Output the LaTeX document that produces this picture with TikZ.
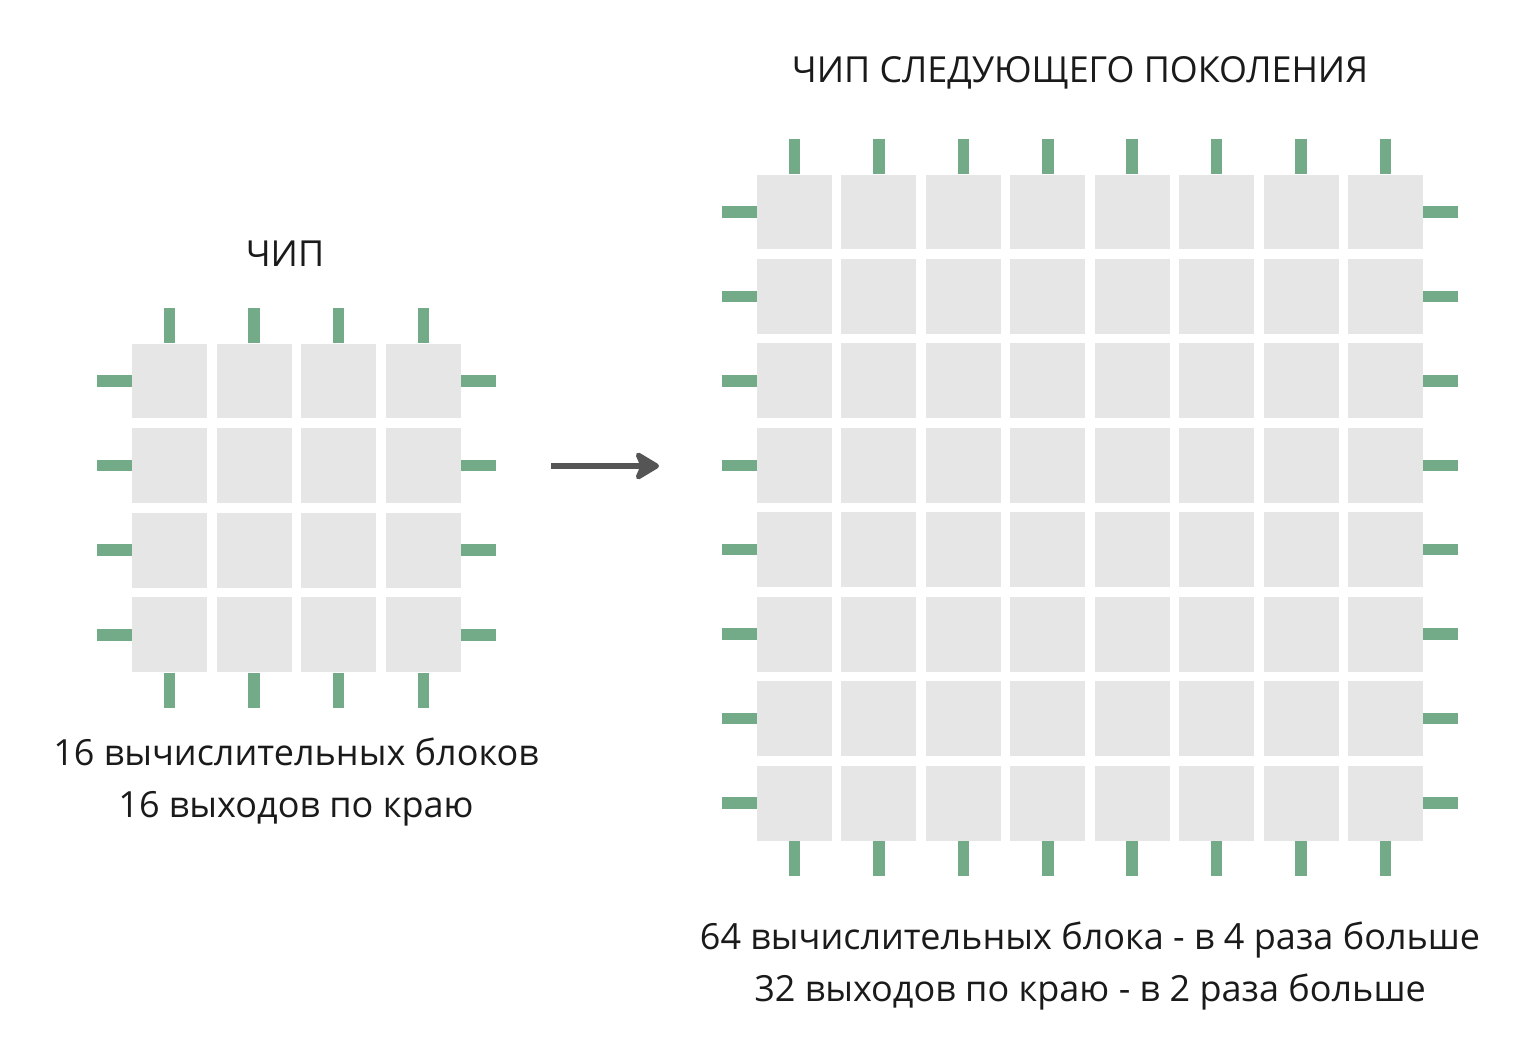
\documentclass[tikz,border=0pt]{standalone}
\usepackage{fontspec}
\setmainfont{Open Sans}
\usetikzlibrary{arrows.meta}
\definecolor{cellgray}{RGB}{230,230,230}
\definecolor{pingreen}{RGB}{115,171,137}
\definecolor{arrowgray}{RGB}{85,85,85}
\definecolor{txt}{RGB}{26,26,26}
\begin{document}
\begin{tikzpicture}[x=0.02cm, y=-0.02cm, line join=round, text=txt,
	cell/.style={fill=cellgray, minimum size=1.5cm, inner sep=0pt},
	pin/.style={draw=pingreen, line width=0.23cm, line cap=butt},
	caption/.style={font=\fontsize{20.5}{29.5}\selectfont, align=center},
	title/.style={font=\fontsize{20.4}{24}\selectfont}]
	\useasboundingbox (0,0) rectangle (1525,1057);
	% small chip
	\foreach \i in {1,...,4}
		\foreach \j in {1,...,4}
			\node [cell] (s-\i-\j) at ({169.5+84.6*(\i-1)},{381+84.6*(\j-1)}) {};
	\foreach \k in {1,...,4} {
		\draw [pin] (s-\k-1.north) -- ++(0,-35);
		\draw [pin] (s-\k-4.south) -- ++(0,35);
		\draw [pin] (s-1-\k.west) -- ++(-35,0);
		\draw [pin] (s-4-\k.east) -- ++(35,0);
	}
	% next generation chip
	\foreach \i in {1,...,8}
		\foreach \j in {1,...,8}
			\node [cell] (b-\i-\j) at ({794.5+84.43*(\i-1)},{212+84.43*(\j-1)}) {};
	\foreach \k in {1,...,8} {
		\draw [pin] (b-\k-1.north) -- ++(0,-35);
		\draw [pin] (b-\k-8.south) -- ++(0,35);
		\draw [pin] (b-1-\k.west) -- ++(-35,0);
		\draw [pin] (b-8-\k.east) -- ++(35,0);
	}
	\node [title] (chip) at (285,254) {ЧИП};
	\node [title] (nextchip) at (1080,73) {ЧИП СЛЕДУЮЩЕГО ПОКОЛЕНИЯ};
	\node [caption] (smalltext) at (296,782) {16 вычислительных блоков\\16 выходов по краю};
	\node [caption] (bigtext) at (1090,966) {64 вычислительных блока - в 4 раза больше\\32 выходов по краю - в 2 раза больше};
	\coordinate (from) at (551,466);
	\coordinate (to) at (659,466);
	\draw [arrowgray, line width=2.9pt, -{Stealth[length=16pt, width=19pt, inset=4pt, round]}] (from) -- (to);
\end{tikzpicture}
\end{document}
